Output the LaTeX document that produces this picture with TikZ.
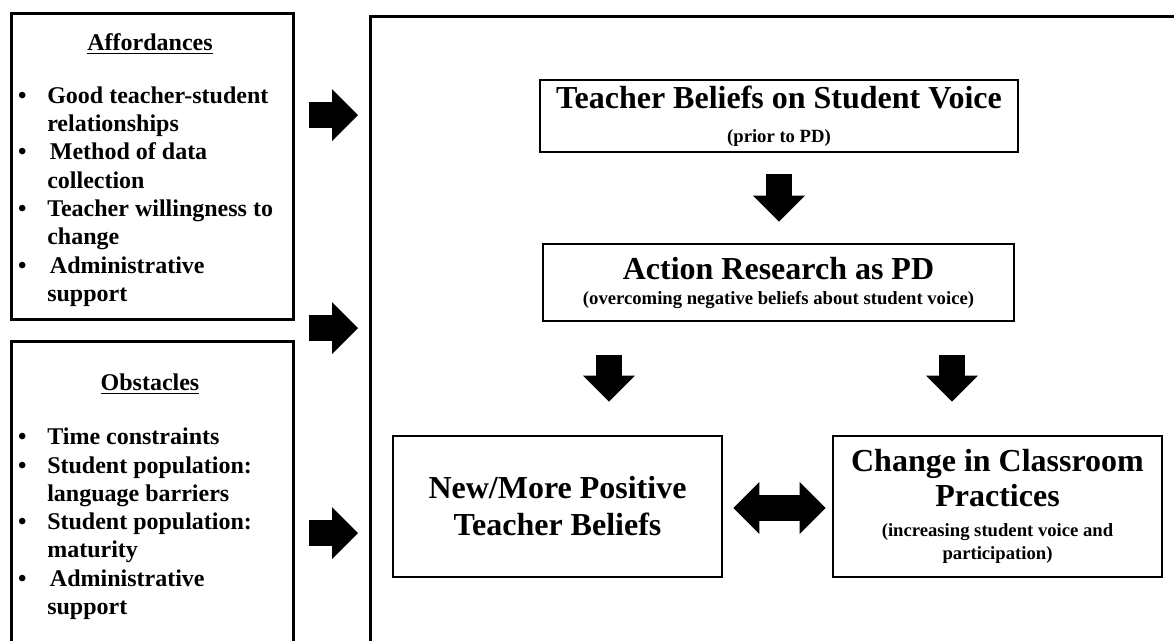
\documentclass[tikz,border=0pt]{standalone}
\usepackage{fontspec}
\setmainfont{Liberation Serif}
\usetikzlibrary{arrows.meta}
\newcommand{\Hd}{\fontsize{24}{26.25}\selectfont}
\newcommand{\Sm}{\fontsize{14}{17.25}\selectfont}
\newcommand{\Ls}{\fontsize{18}{21.2}\selectfont}
\newcommand{\itm}{\llap{\textbullet\hspace{15.5pt}}}
\newcommand{\uln}[1]{\setbox0\hbox{#1}\rlap{\rule[-3.2pt]{\wd0}{1.1pt}}\box0}

\begin{document}
\begin{tikzpicture}[x=0.75pt,y=-0.75pt,
  box/.style={draw,line width=2pt,inner sep=0pt,align=flush center,font=\bfseries},
  side/.style={draw,line width=2pt,inner sep=0pt,anchor=north west},
  list/.style={anchor=north west,align=left,inner sep=0pt,font=\bfseries\Ls},
  blk/.style={line width=19.5pt,-{Triangle[length=19.5pt,width=39pt,line width=0pt]}},
  both/.style={line width=19.5pt,{Triangle[length=19.5pt,width=39pt,line width=0pt]}-{Triangle[length=19.5pt,width=39pt,line width=0pt]}}]
\useasboundingbox (0,0) rectangle (1174,640);
\clip (0,0) rectangle (1174,640);
% side panels, and the big frame that runs off the page
\node[side,minimum width=211.5pt,minimum height=229.5pt] (aff) at (10,12) {};
\node[side,minimum width=211.5pt,minimum height=255pt] (obs) at (10,340) {};
\node[side,line width=2.25pt,minimum width=623pt,minimum height=499pt] (frame) at (369,15) {};

\node[anchor=base,font=\bfseries\Ls] (afft) at (150,50) {\uln{Affordances}};
\node[list] (affl) at (47,86.5) {\itm Good teacher-student\\
relationships\\
\itm\hspace{2pt}Method of data\\
collection\\
\itm Teacher willingness to\\
change\\
\itm\hspace{2pt}Administrative\\
support};

\node[anchor=base,font=\bfseries\Ls] (obst) at (150,390) {\uln{Obstacles}};
\node[list] (obsl) at (47,428) {\itm Time constraints\\
\itm Student population:\\
language barriers\\
\itm Student population:\\
maturity\\
\itm\hspace{2pt}Administrative\\
support};

% the four boxes inside the frame
\node[box,minimum width=358.5pt,minimum height=54pt,text width=350pt] (tb) at (779,116)
  {{\Hd Teacher Beliefs on Student Voice\par}\vspace{8.5pt}{\Sm (prior to PD)\par}};
\node[box,minimum width=353.25pt,minimum height=57.75pt,text width=345pt] (ar) at (778.5,282.5)
  {{\Hd Action Research as PD\par}\vspace{1.5pt}{\Sm (overcoming negative beliefs about student voice)\par}};
\node[box,font=\bfseries\Hd,minimum width=246.75pt,minimum height=105.75pt,text width=235pt] (nb) at (557.5,506.5)
  {New/More Positive\\[1.5pt] Teacher Beliefs};
\node[box,minimum width=246.75pt,minimum height=105.75pt,text width=235pt] (cc) at (997.5,506.5)
  {{\Hd Change in Classroom\\ Practices\par}\vspace{5pt}{\Sm (increasing student voice and\\ participation)\par}};

\coordinate (r1) at (0,115);
\coordinate (r2) at (0,328);
\coordinate (r3) at (0,533);
\coordinate (c1) at (609,0);
\coordinate (c2) at (952,0);
\coordinate (m) at (0,508);

% block arrows
\draw[blk,shorten <=10.5pt,shorten >=8.25pt] (aff.east |- r1) -- (frame.west |- r1);
\draw[blk,shorten <=10.5pt,shorten >=8.25pt] (aff.east |- r2) -- (frame.west |- r2);
\draw[blk,shorten <=10.5pt,shorten >=8.25pt] (obs.east |- r3) -- (frame.west |- r3);
\draw[blk,shorten <=15.75pt,shorten >=15.75pt] (tb.south) -- (tb.south |- ar.north);
\draw[blk,shorten <=24.75pt,shorten >=24.75pt] (ar.south -| c1) -- (nb.north -| c1);
\draw[blk,shorten <=24.75pt,shorten >=24.75pt] (ar.south -| c2) -- (cc.north -| c2);
\draw[both,shorten <=7.5pt,shorten >=4.5pt] (nb.east |- m) -- (cc.west |- m);
\end{tikzpicture}
\end{document}
